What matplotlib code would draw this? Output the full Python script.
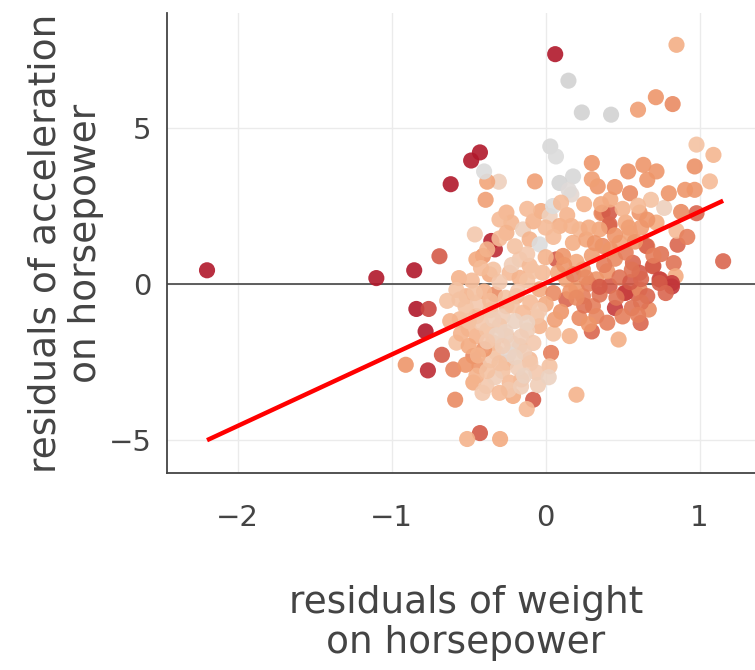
import matplotlib
matplotlib.use("Agg")
import matplotlib.pyplot as plt
from matplotlib.colors import LinearSegmentedColormap
import numpy as np

# residuals of weight on horsepower (x), residuals of acceleration on horsepower (y), colour value
weight_resid = [
    -2.20, -1.10, -0.854, -0.84, -0.76, -0.78, -0.69, -0.617, -0.484, -0.427,
    0.062, 0.148, 0.235, 0.425, 0.60, 0.716, 0.825, 0.85, 1.153, -0.909,
    -0.765, -0.674, -0.588, -0.427, -0.51, -0.296, -0.081, -0.123, 0.20, 0.474,
    0.30, 0.617, 0.035, 0.025, -0.563, -0.39, -0.304, -0.38, -0.07, 0.03,
    0.067, 0.30, 0.338, 0.178, 0.09, 0.536, 0.635, 0.548, 0.66, 0.72,
    0.98, 1.09, 0.968, 1.067, 0.906, 0.968, 0.857, 0.832, 0.844, 0.746,
    0.82, 0.696, 0.66, 0.98, 0.77, 0.684, 0.363, 0.412, 0.548, 0.511,
    0.45, 0.56, 0.67, 0.585, -0.40, 0.167, -0.255, -0.223, -0.30, -0.03,
    0.026, 0.048, 0.09, 0.167, 0.22, 0.37, 0.415, 0.415, 0.35, 0.52,
    0.61, 0.72, -0.46, -0.353, -0.33, -0.407, -0.255, -0.147, -0.104, -0.039,
    0.069, 0.113, 0.177, 0.264, 0.37, 0.48, 0.654, 0.567, 0.61, 0.70,
    0.74, -0.169, -0.104, -0.234, -0.169, -0.364, -0.45, -0.515, -0.33, -0.19,
    -0.04, 0.134, 0.242, 0.33, 0.415, 0.52, 0.61, 0.134, 0.242, 0.307,
    0.33, 0.156, -0.04, -0.147, -0.255, -0.45, -0.558, -0.58, -0.60, -0.47,
    -0.43, -0.32, -0.255, -0.169, -0.104, -0.255, -0.342, -0.45, -0.06, -0.47,
    -0.385, -0.234, -0.212, -0.158, -0.41, -0.56, -0.52, -0.44, -0.36, -0.28,
    -0.20, -0.12, -0.30, -0.38, -0.50, -0.22, -0.08, -0.14, -0.36, -0.28,
    -0.18, -0.50, -0.40, -0.32, -0.24, -0.06, -0.10, -0.26, -0.40, -0.48,
    -0.30, -0.12, -0.02, -0.20, -0.30, -0.38, -0.12, 0.00, 0.05, 0.14,
    -0.08, -0.45, -0.33, -0.52, -0.55, -0.62, -0.64, 0.05, 0.20, 0.28,
    0.35, 0.40, 0.48, 0.55, 0.62, 0.20, 0.30, 0.45, 0.52, 0.10,
    0.22, 0.40, 0.00, 0.08, 0.18, 0.58, 0.28, 0.45, 0.62, 0.25,
    0.42, 0.50, 0.60, 0.85, 0.75, 0.35, 0.25, 0.82, 0.74, 0.15,
    -0.46, -0.42, -0.34, -0.26, -0.16, -0.10, -0.20, -0.30, -0.38, -0.24,
    -0.16, -0.30, -0.44, -0.38, -0.28, -0.12, -0.04, -0.18, -0.34, -0.22,
    -0.08, -0.42, -0.14, -0.05, 0.02, 0.05, -0.50, -0.58, -0.36, -0.22,
    0.12, 0.26, 0.38, 0.46, 0.56, 0.66, 0.70, 0.32, 0.42, 0.16,
    0.06, 0.20, 0.28, 0.50, 0.62, 0.78, 0.54, 0.66, 0.36, 0.10,
    0.00, -0.12, 0.30, 0.45, 0.80, 0.88, 0.92, 0.60,
]
accel_resid = [
    0.43, 0.18, 0.43, -0.81, -0.81, -1.53, 0.88, 3.19, 3.95, 4.21,
    7.36, 6.51, 5.49, 5.42, 5.58, 5.98, 5.76, 7.66, 0.72, -2.60,
    -2.78, -2.28, -3.72, -4.79, -4.98, -4.98, -3.72, -4.02, -3.56, -1.79,
    -1.53, -1.26, -2.22, -2.65, 0.18, 2.69, 3.27, 3.27, 3.28, 4.40,
    4.08, 3.87, 3.12, 3.44, 3.23, 3.60, 3.81, 2.90, 3.33, 3.60,
    4.46, 4.13, 3.76, 3.28, 3.01, 3.01, 1.25, 0.66, 0.24, 0.13,
    0.02, 0.56, 1.20, 2.26, 2.43, 2.69, 2.26, 1.84, 1.62, -0.30,
    -0.78, -0.78, -0.83, -0.30, 3.60, 2.86, 2.28, 1.96, 2.06, 2.33,
    2.17, 2.49, 1.85, 1.85, 1.74, 2.28, 2.28, 1.90, 1.74, 1.96,
    2.28, 1.96, 1.58, 1.37, 1.10, 0.89, 1.63, 1.74, 1.42, 1.26,
    0.78, 0.89, 1.31, 1.42, 1.21, 1.31, 1.21, 0.67, 0.35, 0.57,
    0.14, 0.78, 0.57, 0.35, 0.19, 0.30, 0.78, -0.40, -0.34, -0.40,
    -0.18, 0.14, 0.46, 0.14, -0.07, -0.29, -0.18, -0.50, -0.40, -0.72,
    -1.04, -1.68, -1.36, -0.93, -0.72, -1.04, -1.14, -1.89, -2.75, -2.32,
    -2.64, -2.21, -1.68, -2.00, -2.43, -2.53, -1.89, -1.68, -2.85, -3.17,
    -3.28, -3.17, -3.60, -3.07, -3.50, -0.51, -0.75, -0.60, -0.85, -1.05,
    -1.20, -1.50, -1.35, -1.50, -1.45, -1.90, -1.90, -2.20, -2.45, -2.80,
    -2.70, -2.00, -2.10, -1.65, -2.25, -1.05, -0.60, -0.45, -0.25, 0.10,
    0.05, 0.10, 0.35, 1.20, 1.45, 1.10, 0.95, 0.85, 1.50, 2.20,
    2.00, -2.95, -3.00, -2.60, -1.60, -1.20, -0.55, -0.30, -0.15, 0.00,
    -0.35, 0.40, 0.20, 0.05, 0.15, 0.70, 0.90, 0.80, 1.00, -0.90,
    -1.10, -1.25, -0.65, 0.35, 0.30, 1.35, 1.80, 1.55, 1.80, 2.55,
    2.70, 2.40, 2.50, 1.70, 0.95, -0.10, -0.70, -0.09, 0.02, 3.00,
    -0.30, -1.25, -1.15, -1.55, -1.70, -2.55, -2.35, -2.55, -2.80, -3.40,
    -3.30, -3.50, -2.30, -1.85, -2.00, -1.25, -0.85, -0.25, 0.45, 0.60,
    0.40, 0.50, -2.95, -3.25, -3.00, -1.60, -1.20, -0.20, -0.55, -0.70,
    0.60, 0.20, 0.60, -0.45, 0.45, -0.40, 0.90, 1.30, 1.10, -0.25,
    -1.15, -0.45, -1.30, -1.05, -0.60, -0.30, 1.80, 2.05, 2.55, 2.60,
    1.80, 2.40, 3.35, 3.10, 2.90, 2.30, 1.50, -1.00,
]
colour_value = [
    0.10, 0.10, 0.10, 0.10, 0.18, 0.10, 0.20, 0.10, 0.10, 0.10,
    0.10, 0.63, 0.63, 0.63, 0.32, 0.30, 0.28, 0.35, 0.22, 0.30,
    0.14, 0.20, 0.28, 0.20, 0.36, 0.34, 0.20, 0.38, 0.36, 0.35,
    0.22, 0.22, 0.26, 0.40, 0.36, 0.32, 0.45, 0.33, 0.32, 0.60,
    0.58, 0.30, 0.30, 0.60, 0.62, 0.29, 0.30, 0.28, 0.30, 0.30,
    0.40, 0.37, 0.29, 0.38, 0.30, 0.30, 0.22, 0.24, 0.34, 0.20,
    0.17, 0.22, 0.27, 0.22, 0.45, 0.40, 0.28, 0.22, 0.33, 0.20,
    0.17, 0.24, 0.28, 0.22, 0.58, 0.50, 0.36, 0.37, 0.38, 0.34,
    0.45, 0.58, 0.35, 0.36, 0.37, 0.27, 0.20, 0.22, 0.33, 0.34,
    0.30, 0.34, 0.42, 0.12, 0.14, 0.30, 0.36, 0.45, 0.36, 0.58,
    0.20, 0.30, 0.35, 0.33, 0.28, 0.33, 0.22, 0.22, 0.20, 0.20,
    0.18, 0.42, 0.38, 0.38, 0.36, 0.34, 0.34, 0.36, 0.28, 0.36,
    0.34, 0.33, 0.30, 0.30, 0.20, 0.17, 0.27, 0.22, 0.26, 0.26,
    0.27, 0.36, 0.36, 0.38, 0.36, 0.36, 0.38, 0.40, 0.27, 0.27,
    0.30, 0.40, 0.38, 0.40, 0.38, 0.36, 0.38, 0.36, 0.42, 0.34,
    0.42, 0.38, 0.34, 0.38, 0.42, 0.40, 0.40, 0.42, 0.40, 0.44,
    0.46, 0.44, 0.42, 0.40, 0.38, 0.46, 0.42, 0.44, 0.42, 0.40,
    0.44, 0.34, 0.30, 0.46, 0.50, 0.40, 0.38, 0.40, 0.36, 0.38,
    0.42, 0.40, 0.38, 0.40, 0.38, 0.36, 0.42, 0.36, 0.38, 0.36,
    0.36, 0.36, 0.44, 0.30, 0.36, 0.36, 0.40, 0.28, 0.30, 0.26,
    0.24, 0.30, 0.24, 0.20, 0.22, 0.34, 0.32, 0.28, 0.26, 0.30,
    0.28, 0.26, 0.34, 0.34, 0.26, 0.30, 0.34, 0.30, 0.32, 0.36,
    0.34, 0.36, 0.38, 0.38, 0.24, 0.20, 0.24, 0.16, 0.20, 0.55,
    0.40, 0.42, 0.44, 0.46, 0.44, 0.42, 0.46, 0.40, 0.40, 0.42,
    0.44, 0.38, 0.36, 0.42, 0.44, 0.46, 0.42, 0.42, 0.40, 0.44,
    0.40, 0.38, 0.46, 0.44, 0.46, 0.40, 0.40, 0.40, 0.38, 0.40,
    0.30, 0.28, 0.26, 0.24, 0.24, 0.22, 0.26, 0.30, 0.30, 0.30,
    0.32, 0.28, 0.30, 0.26, 0.24, 0.22, 0.32, 0.30, 0.34, 0.38,
    0.38, 0.38, 0.32, 0.30, 0.30, 0.28, 0.26, 0.26,
]

# fitted partial-regression line
fit_slope = 2.29
fit_intercept = 0.02

x_ticks = [-2, -1, 0, 1]
y_ticks = [-5, 0, 5]
x_title = "residuals of weight\non horsepower"
y_title = "residuals of acceleration\non horsepower"

# colour scale (dark red -> orange -> peach -> light grey)
scale_stops = [0.0, 0.10, 0.17, 0.20, 0.26, 0.30, 0.34, 0.38, 0.42, 0.46, 0.50, 0.58, 0.63, 1.0]
scale_colours = ["#8e0d25", "#b2182b", "#c63c3c", "#d45a48", "#e5805c", "#ee976b",
                 "#f3aa80", "#f5bb97", "#f3c8ad", "#ecd2c2", "#e4d8d1", "#dcdcdc",
                 "#d2d2d2", "#c8c8c8"]
cmap = LinearSegmentedColormap.from_list("resid", list(zip(scale_stops, scale_colours)))

text_col = "#444444"
plt.rcParams["font.family"] = ["DejaVu Sans"]

fig = plt.figure(figsize=(7.55, 6.70), dpi=100)
ax = fig.add_axes([167 / 755, 1 - 473 / 670, (755 - 167) / 755, (473 - 13) / 670])

xs = np.array(weight_resid)
ys = np.array(accel_resid)
cs = np.array(colour_value)

ax.scatter(xs, ys, c=cs, cmap=cmap, vmin=0, vmax=1, s=135, alpha=0.9,
           linewidths=0, zorder=3)

lx = np.array([xs.min(), xs.max()])
ax.plot(lx, fit_slope * lx + fit_intercept, color="#ff0000", lw=3.2, zorder=4,
        solid_capstyle="butt")

ax.axhline(0, color=text_col, lw=1.2, zorder=2)

ax.set_xlim(-2.46, 1.36)
ax.set_ylim(-6.07, 8.68)
ax.set_xticks(x_ticks)
ax.set_yticks(y_ticks)
ax.set_xticklabels(["\u2212" + str(-t) if t < 0 else str(t) for t in x_ticks])
ax.set_yticklabels(["\u2212" + str(-t) if t < 0 else str(t) for t in y_ticks])
ax.grid(True, color="#ebebeb", lw=1.0, zorder=0)
ax.set_axisbelow(True)
ax.tick_params(axis="both", length=0, labelsize=21, labelcolor=text_col)
ax.tick_params(axis="x", pad=22)
ax.tick_params(axis="y", pad=11)
for s in ["top", "right"]:
    ax.spines[s].set_visible(False)
for s in ["left", "bottom"]:
    ax.spines[s].set_color(text_col)
    ax.spines[s].set_linewidth(1.3)

fig.text(466 / 755, 1 - 623 / 670, x_title, ha="center", va="center",
         fontsize=27, color=text_col, linespacing=1.15)
fig.text(66 / 755, 1 - 243 / 670, y_title, ha="center", va="center",
         rotation=90, fontsize=27, color=text_col, linespacing=1.15)

fig.savefig("out.png", dpi=100)
